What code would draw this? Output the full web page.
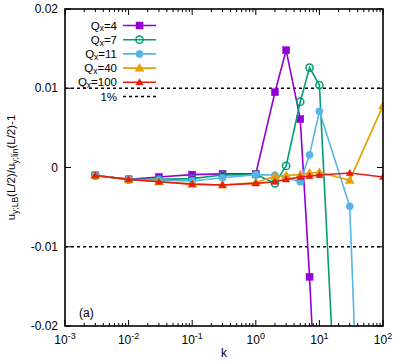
<!DOCTYPE html>
<html>
<head>
<meta charset="utf-8">
<script src="https://cdn.jsdelivr.net/npm/d3@7"></script>
<style>
  body { margin: 0; background: #fff; }
  text { font-family: "Liberation Sans", Arial, sans-serif; }
</style>
</head>
<body>
<div id="svg-container"></div>
<script>
// values
const kQ4 = [0.003, 0.01, 0.03, 0.1, 0.3, 1, 2, 3, 5, 7, 10];
const valQ4 = [-0.001, -0.0015, -0.0012, -0.0009, -0.0008, -0.0008, 0.0095, 0.0148, 0.0061, -0.0138, -0.039];
const kQ7 = [0.003, 0.01, 0.03, 0.1, 0.3, 1, 2, 3, 5, 7, 10, 20];
const valQ7 = [-0.001, -0.0015, -0.0015, -0.0014, -0.00095, -0.0009, -0.002, 0.0002, 0.0083, 0.0126, 0.0104, -0.038];
const kQ11 = [0.003, 0.01, 0.03, 0.1, 0.3, 1, 2, 3, 5, 7, 10, 30, 100];
const valQ11 = [-0.001, -0.0015, -0.0016, -0.0017, -0.0013, -0.0009, -0.00095, -0.0013, -0.0018, 0.0016, 0.0071, -0.0049, -0.115];
const kQ40 = [0.003, 0.01, 0.03, 0.1, 0.3, 1, 2, 3, 5, 7, 10, 30, 100];
const valQ40 = [-0.001, -0.0015, -0.0018, -0.0021, -0.0022, -0.0019, -0.0011, -0.001, -0.0009, -0.0007, -0.0006, -0.0016, 0.0078];
const kQ100 = [0.003, 0.01, 0.03, 0.1, 0.3, 1, 2, 3, 5, 7, 10, 30, 100];
const valQ100 = [-0.001, -0.0015, -0.0018, -0.0021, -0.0022, -0.002, -0.0018, -0.0015, -0.0012, -0.0011, -0.00095, -0.0007, -0.0012];

const legendNames = ["4", "7", "11", "40", "100"];
const yTicks = [-0.02, -0.01, 0, 0.01, 0.02];
const yTickLabels = ["-0.02", "-0.01", "0", "0.01", "0.02"];
const xTickExps = [-3, -2, -1, 0, 1, 2];
const refLevels = [0.01, -0.01];

const width = 395;
const height = 363;
const margin = { top: 9, right: 12, bottom: 37, left: 65 };

const svg = d3
  .select("#svg-container")
  .append("svg")
  .attr("width", width)
  .attr("height", height);

const x = d3
  .scaleLog()
  .domain([1e-3, 1e2])
  .range([margin.left, width - margin.right]);
const y = d3
  .scaleLinear()
  .domain([-0.02, 0.02])
  .range([height - margin.bottom, margin.top]);

const series = [
  { k: kQ4, v: valQ4, color: "#9400d3", shape: "square", fill: true },
  { k: kQ7, v: valQ7, color: "#009e73", shape: "circle", fill: false },
  { k: kQ11, v: valQ11, color: "#56b4e9", shape: "circle", fill: true },
  { k: kQ40, v: valQ40, color: "#e69f00", shape: "triangle", fill: true },
  { k: kQ100, v: valQ100, color: "#e51e10", shape: "smalltri", fill: true },
];

svg
  .append("defs")
  .append("clipPath")
  .attr("id", "plotclip")
  .append("rect")
  .attr("x", margin.left)
  .attr("y", margin.top)
  .attr("width", width - margin.left - margin.right)
  .attr("height", height - margin.top - margin.bottom);

// dashed 1% lines
svg
  .selectAll(".ref")
  .data(refLevels)
  .enter()
  .append("line")
  .attr("x1", margin.left)
  .attr("x2", width - margin.right)
  .attr("y1", (d) => y(d))
  .attr("y2", (d) => y(d))
  .style("stroke", "black")
  .style("stroke-width", 1.5)
  .style("stroke-dasharray", "3,3");

function marker(sel, s) {
  if (s.shape === "square") {
    sel.append("rect").attr("x", -3.5).attr("y", -3.5).attr("width", 7).attr("height", 7);
  } else if (s.shape === "circle") {
    sel.append("circle").attr("r", 3.6);
  } else if (s.shape === "triangle") {
    sel.append("path").attr("d", "M0,-4.5L4.5,3.2L-4.5,3.2Z");
  } else {
    sel.append("path").attr("d", "M0,-3.6L3.6,2.6L-3.6,2.6Z");
  }
  sel
    .selectAll("*")
    .style("fill", s.fill ? s.color : "none")
    .style("stroke", s.color)
    .style("stroke-width", s.fill ? 0.5 : 1.5);
}

const plot = svg.append("g").attr("clip-path", "url(#plotclip)");
const line = d3
  .line()
  .x((d) => x(d[0]))
  .y((d) => y(d[1]));

series.forEach((s) => {
  const pts = s.k.map((k, i) => [k, s.v[i]]);
  plot
    .append("path")
    .attr("d", line(pts))
    .style("fill", "none")
    .style("stroke", s.color)
    .style("stroke-width", 1.6);
  pts.forEach((p) => {
    const g = plot.append("g").attr("transform", `translate(${x(p[0])},${y(p[1])})`);
    marker(g, s);
  });
});

// axes: ticks inward and mirrored on all sides
const pLeft = margin.left, pRight = width - margin.right;
const pTop = margin.top, pBottom = height - margin.bottom;

const axisG = svg.append("g");
const majorX = xTickExps.map((e) => Math.pow(10, e));
const minorX = [];
for (let e = -3; e < 2; e++) {
  for (let m = 2; m < 10; m++) minorX.push(m * Math.pow(10, e));
}
[[majorX, 6], [minorX, 3]].forEach(([vals, len]) => {
  vals.forEach((v) => {
    axisG.append("line").attr("x1", x(v)).attr("x2", x(v)).attr("y1", pBottom).attr("y2", pBottom - len);
    axisG.append("line").attr("x1", x(v)).attr("x2", x(v)).attr("y1", pTop).attr("y2", pTop + len);
  });
});
yTicks.forEach((v) => {
  axisG.append("line").attr("x1", pLeft).attr("x2", pLeft + 6).attr("y1", y(v)).attr("y2", y(v));
  axisG.append("line").attr("x1", pRight).attr("x2", pRight - 6).attr("y1", y(v)).attr("y2", y(v));
});
axisG.selectAll("line").style("stroke", "black").style("stroke-width", 1);

svg
  .append("rect")
  .attr("x", pLeft)
  .attr("y", pTop)
  .attr("width", pRight - pLeft)
  .attr("height", pBottom - pTop)
  .style("fill", "none")
  .style("stroke", "black")
  .style("stroke-width", 1.6);

// tick labels
svg
  .selectAll(".ylab")
  .data(yTicks)
  .enter()
  .append("text")
  .attr("x", pLeft - 7)
  .attr("y", (d) => y(d) + 4)
  .attr("text-anchor", "end")
  .style("font-size", "12px")
  .text((d, i) => yTickLabels[i]);

const xl = svg
  .selectAll(".xlab")
  .data(xTickExps)
  .enter()
  .append("text")
  .attr("x", (d) => x(Math.pow(10, d)))
  .attr("y", pBottom + 18)
  .attr("text-anchor", "middle")
  .style("font-size", "12px");
xl.append("tspan").text("10");
xl.append("tspan")
  .attr("dy", -5)
  .style("font-size", "9px")
  .text((d) => d);

svg
  .append("text")
  .attr("x", (pLeft + pRight) / 2)
  .attr("y", 357)
  .attr("text-anchor", "middle")
  .style("font-size", "12px")
  .text("k");

// y axis title
const yt = svg
  .append("text")
  .attr("transform", `translate(15,${(pTop + pBottom) / 2}) rotate(-90)`)
  .attr("text-anchor", "middle")
  .style("font-size", "11.5px");
yt.append("tspan").text("u");
yt.append("tspan").attr("dy", 3).style("font-size", "8.5px").text("y;LB");
yt.append("tspan").attr("dy", -3).text("(L/2)/u");
yt.append("tspan").attr("dy", 3).style("font-size", "8.5px").text("y;lin");
yt.append("tspan").attr("dy", -3).text("(L/2)-1");

svg
  .append("text")
  .attr("x", 79)
  .attr("y", 317)
  .style("font-size", "12px")
  .text("(a)");

// legend
const legY0 = 25.5, legStep = 14.2;
series.forEach((s, i) => {
  const yy = legY0 + i * legStep;
  const t = svg
    .append("text")
    .attr("x", 117)
    .attr("y", yy + 4)
    .attr("text-anchor", "end")
    .style("font-size", "11.5px");
  t.append("tspan").text("Q");
  t.append("tspan").attr("dy", 1.8).style("font-size", "8.5px").text("x");
  t.append("tspan").attr("dy", -1.8).text("=" + legendNames[i]);
  svg
    .append("line")
    .attr("x1", 123)
    .attr("x2", 156)
    .attr("y1", yy)
    .attr("y2", yy)
    .style("stroke", s.color)
    .style("stroke-width", 1.6);
  const g = svg.append("g").attr("transform", `translate(139.5,${yy})`);
  marker(g, s);
});
const yy1 = legY0 + 5 * legStep;
svg
  .append("text")
  .attr("x", 117)
  .attr("y", yy1 + 4)
  .attr("text-anchor", "end")
  .style("font-size", "11.5px")
  .text("1%");
svg
  .append("line")
  .attr("x1", 123)
  .attr("x2", 156)
  .attr("y1", yy1)
  .attr("y2", yy1)
  .style("stroke", "black")
  .style("stroke-width", 1.5)
  .style("stroke-dasharray", "3,3");
</script>
</body>
</html>
